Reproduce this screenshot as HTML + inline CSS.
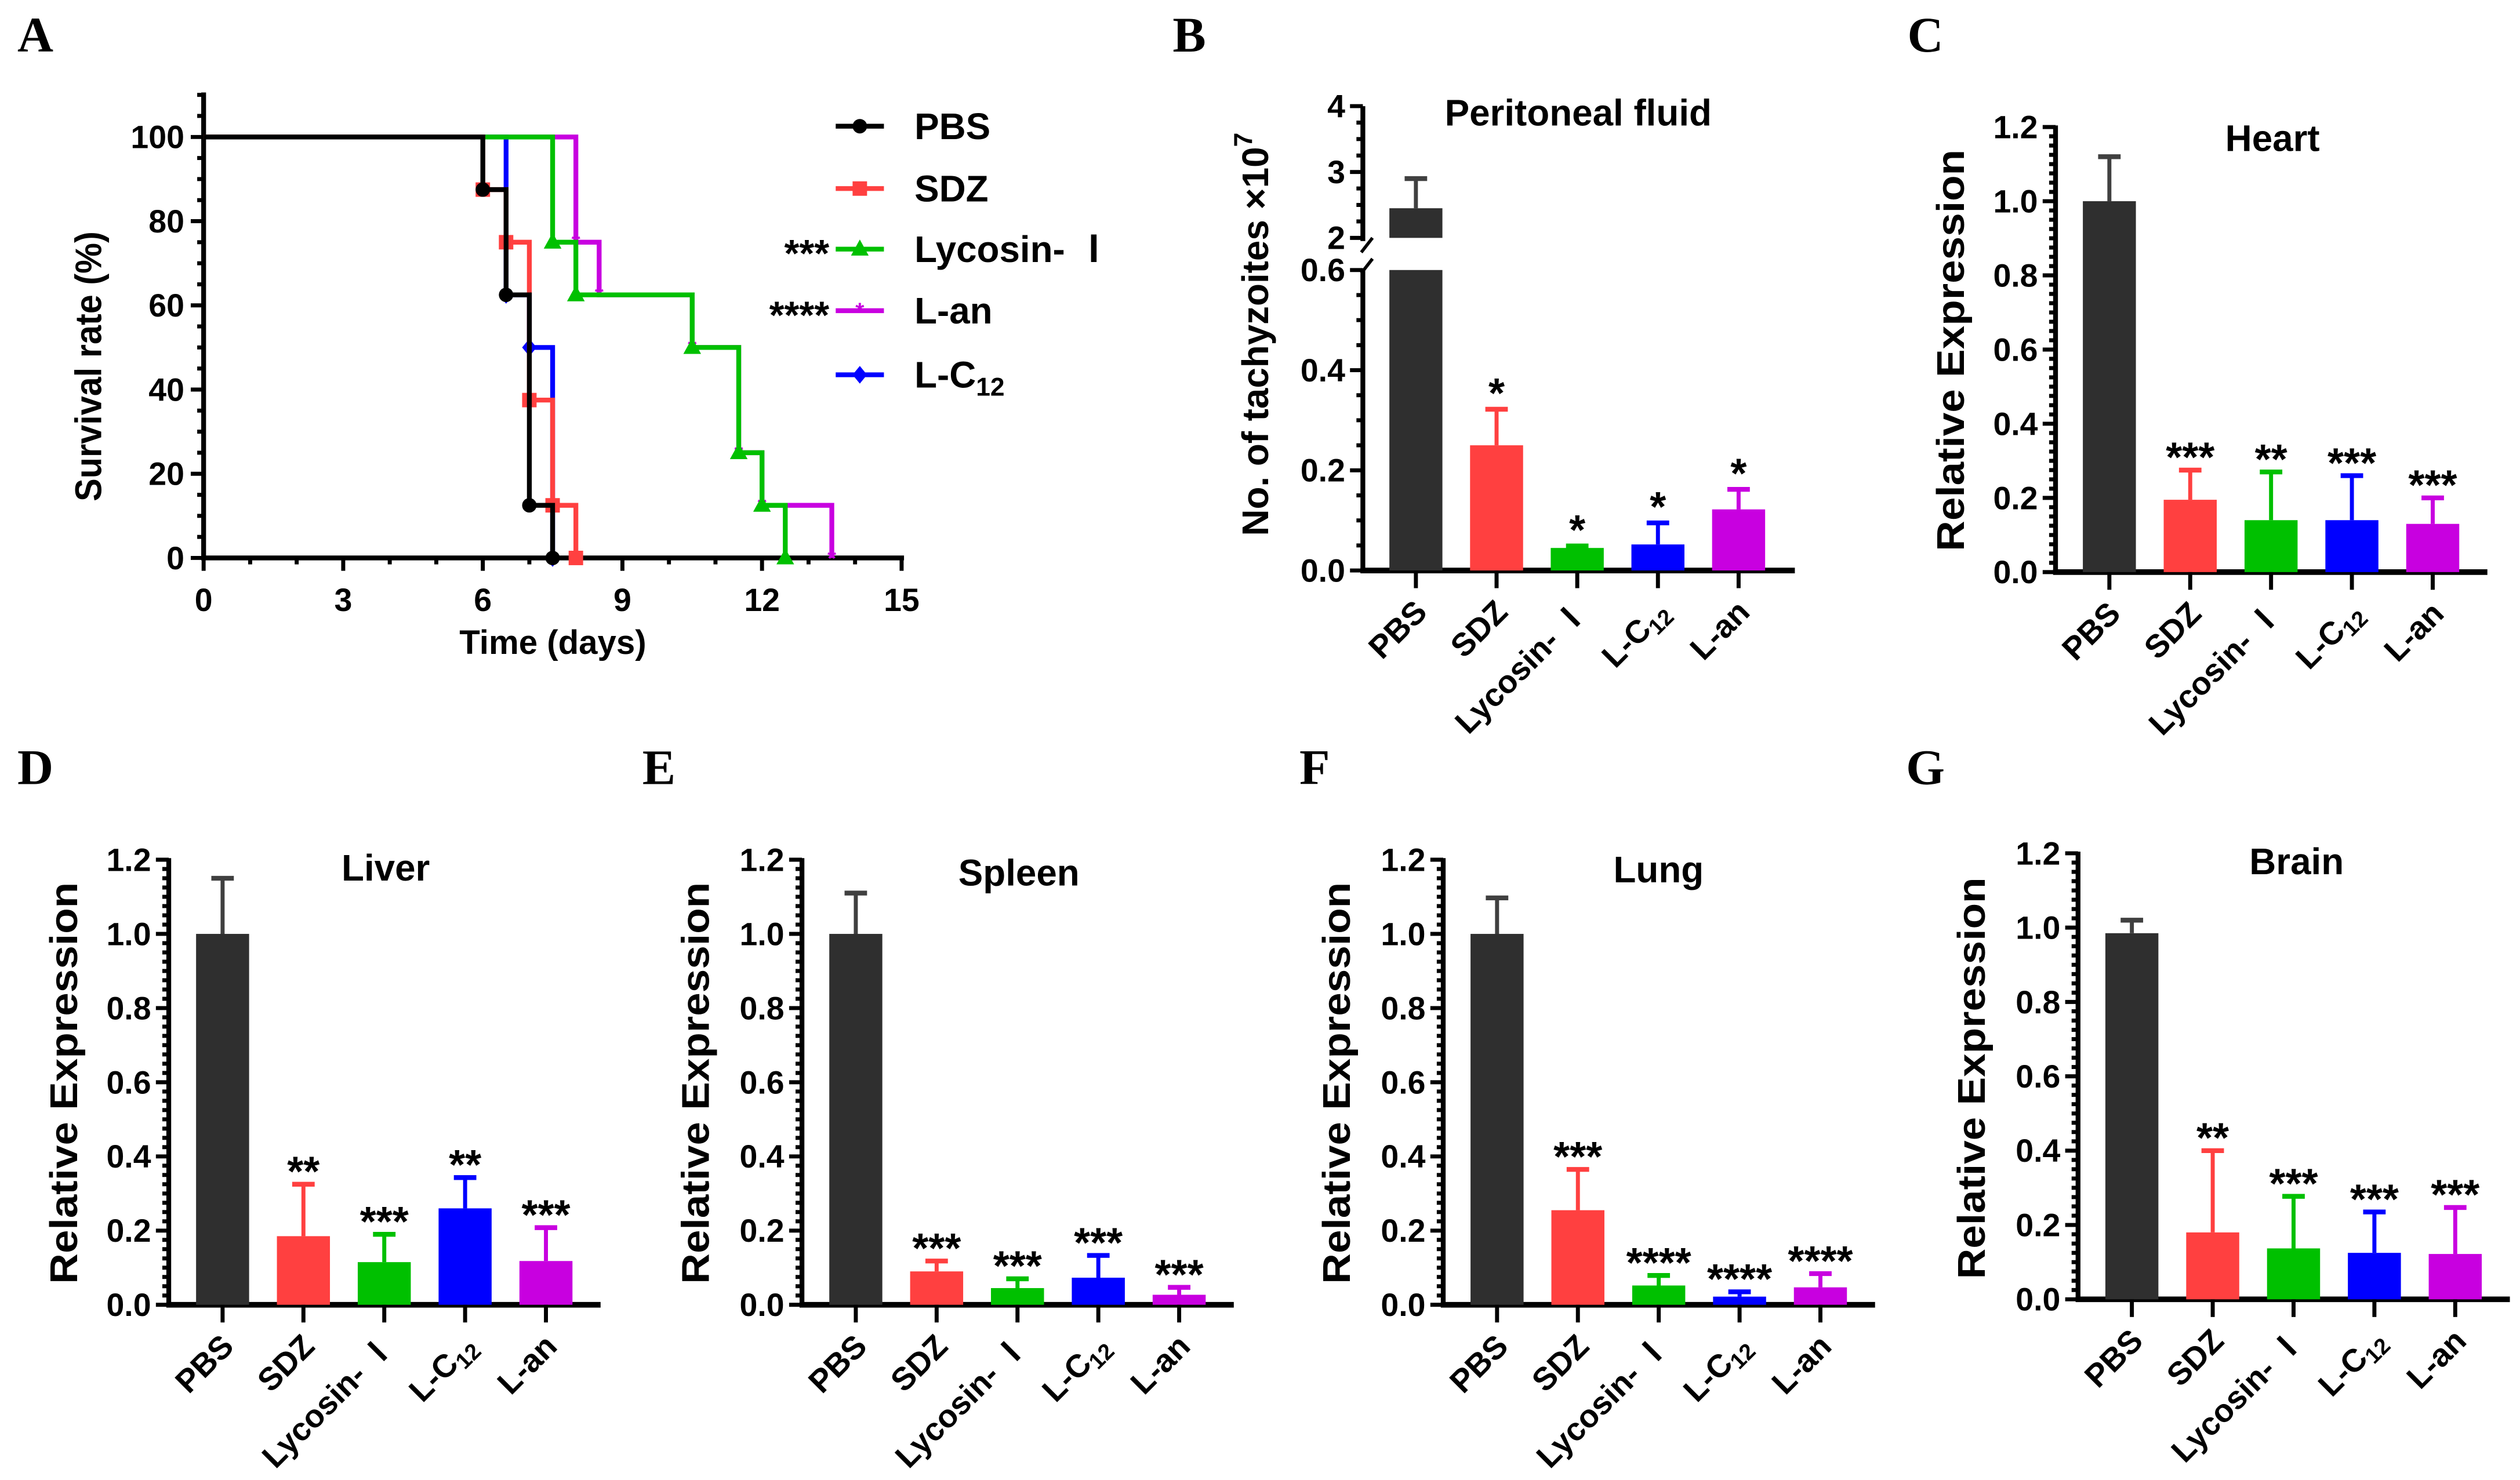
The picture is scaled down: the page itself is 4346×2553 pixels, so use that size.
<!DOCTYPE html>
<html><head><meta charset="utf-8">
<style>
html,body{margin:0;padding:0;background:#fff;}
svg{display:block;}
text{font-family:"Liberation Sans","Noto Sans CJK SC",sans-serif;}
.num{font-family:"Liberation Sans Narrow","Liberation Sans",sans-serif;font-weight:bold;font-size:20px;}
.lbl{font-weight:bold;}
.letter{font-family:"Liberation Serif",serif;font-weight:bold;font-size:31px;}
</style></head>
<body>
<svg id="fig" xmlns="http://www.w3.org/2000/svg" width="4346" height="2553" viewBox="0 0 1568 921"></svg>
<script>
// ---------- DATA ----------
const groups = ["PBS","SDZ","Lycosin- Ⅰ","L-C12","L-an"];
const colors = ["#2f2f2f","#ff4040","#00c000","#0000ff","#c800e0"];
// survival (panel A)
const pbsT=[0,6,6.5,7,7.5],           pbsS=[100,87.5,62.5,12.5,0];
const sdzT=[0,6,6.5,7,7.5,8],         sdzS=[100,87.5,75,37.5,12.5,0];
const lycT=[0,7.5,8,10.5,11.5,12,12.5], lycS=[100,75,62.5,50,25,12.5,0];
const lanT=[0,8,8.5,10.5,11.5,12,13.5], lanS=[100,75,62.5,50,25,12.5,0];
const lcT=[0,6.5,7,7.5],              lcS=[100,62.5,50,0];
const survXTicks=[0,3,6,9,12,15];
const survYTicks=[0,20,40,60,80,100];
// peritoneal (panel B)
const periVals=[2.45,0.25,0.045,0.052,0.122];
const periErr=[0.45,0.072,0.004,0.043,0.04];
const periStars=["","*","*","*","*"];
// organs
const heartVals=[1.0,0.195,0.14,0.14,0.13], heartErr=[0.12,0.08,0.13,0.12,0.07], heartStars=["","***","**","***","***"];
const liverVals=[1.0,0.185,0.115,0.26,0.118], liverErr=[0.15,0.14,0.075,0.083,0.09], liverStars=["","**","***","**","***"];
const spleenVals=[1.0,0.09,0.045,0.073,0.027], spleenErr=[0.11,0.028,0.025,0.06,0.02], spleenStars=["","***","***","***","***"];
const lungVals=[1.0,0.255,0.052,0.022,0.047], lungErr=[0.097,0.11,0.027,0.013,0.037], lungStars=["","***","****","****","****"];
const brainVals=[0.985,0.18,0.137,0.125,0.122], brainErr=[0.035,0.22,0.14,0.11,0.125], brainStars=["","**","***","***","***"];
const relTicks=[0,0.2,0.4,0.6,0.8,1.0,1.2];

// ---------- HELPERS ----------
const NS="http://www.w3.org/2000/svg";
const svg=document.getElementById('fig');
function mk(tag,attrs,parent){const e=document.createElementNS(NS,tag);for(const k in attrs)e.setAttribute(k,attrs[k]);(parent||svg).appendChild(e);return e;}
function line(x1,y1,x2,y2,c,w,p){return mk('line',{x1,y1,x2,y2,stroke:c,'stroke-width':w,'stroke-linecap':'butt'},p);}
function txt(x,y,s,attrs,p){const t=mk('text',Object.assign({x,y},attrs),p);t.textContent=s;return t;}
function catLabel(g,x,y,name){
  const t=mk('text',{x,y,'text-anchor':'end','font-weight':'bold','font-size':20,transform:`rotate(-45 ${x} ${y})`},g);
  if(name==="L-C12"){t.appendChild(document.createTextNode("L-C"));const s=mk('tspan',{'font-size':14,dy:4},t);s.textContent="12";}
  else t.textContent=name;
  
  
  return t;
}

// panel letters
[["A",22,32],["B",740,32],["C",1198,32],["D",22,488],["E",410,488],["F",818,488],["G",1198,488]].forEach(([l,x,y])=>{
  const t=txt(x,y,l,{class:'letter','text-anchor':'middle'});
  
  
});

// ---------- PANEL A ----------
(function(){
  const g=mk('g',{});
  
  
  const X0=126.7,X1=561,Y0=347.2,Y100=85.2;
  const sx=t=>X0+(X1-X0)*t/15, sy=v=>Y0+(Y100-Y0)*v/100;
  line(X0,Y0,X0,57.5,'#000',3,g);
  line(X0-1.5,Y0,X1+1.5,Y0,'#000',3,g);
  for(let v=0;v<=110;v+=5){const maj=v%20===0;line(X0-(maj?8:4),sy(v),X0,sy(v),'#000',2.5,g);}
  survYTicks.forEach(v=>{const t=txt(X0-12,sy(v)+7,v,{class:'num','text-anchor':'end'},g);});
  for(let d=0;d<=15;d++){const maj=d%3===0;line(sx(d),Y0,sx(d),Y0+(maj?8:4),'#000',2.5,g);}
  survXTicks.forEach(d=>{const t=txt(sx(d),Y0+33,d,{class:'num','text-anchor':'middle'},g);});
  const yt=txt(0,0,"Survival rate (%)",{'font-weight':'bold','font-size':23,'text-anchor':'middle',transform:'translate(63 228) rotate(-90)',textLength:168,lengthAdjust:'spacingAndGlyphs'},g);
  
  const xt=txt(344,407,"Time (days)",{'font-weight':'bold','font-size':21,'text-anchor':'middle'},g);
  
  function marker(type,x,y,c,p){
    if(type==='circle')return mk('circle',{cx:x,cy:y,r:4.5,fill:c},p);
    if(type==='square')return mk('rect',{x:x-4.5,y:y-4.5,width:9,height:9,fill:c},p);
    if(type==='tri')return mk('polygon',{points:`${x},${y-6} ${x-5.5},${y+4} ${x+5.5},${y+4}`,fill:c},p);
    if(type==='diamond')return mk('polygon',{points:`${x},${y-5.5} ${x+4.5},${y} ${x},${y+5.5} ${x-4.5},${y}`,fill:c},p);
    if(type==='star')return mk('text',{x,y:y+5,'text-anchor':'middle','font-size':14,fill:c,'font-weight':'bold'},p);
  }
  const series=[
    {name:'l-an',T:lanT,S:lanS,c:colors[4],m:'star'},
    {name:'l-c12',T:lcT,S:lcS,c:colors[3],m:'diamond'},
    {name:'lycosin',T:lycT,S:lycS,c:colors[2],m:'tri'},
    {name:'sdz',T:sdzT,S:sdzS,c:colors[1],m:'square'},
    {name:'pbs',T:pbsT,S:pbsS,c:'#000',m:'circle'}];
  series.forEach(s=>{
    const sg=mk('g',{},g);
    
    
    let d=`M${sx(s.T[0])},${sy(s.S[0])}`;
    for(let i=1;i<s.T.length;i++){d+=` H${sx(s.T[i])} V${sy(s.S[i])}`;}
    mk('path',{d,fill:'none',stroke:s.c,'stroke-width':3},sg);
    for(let i=1;i<s.T.length;i++){const m=marker(s.m,sx(s.T[i]),sy(s.S[i]),s.c,sg);if(s.m==='star')m.textContent='*';}
  });
  const leg=[["PBS",'#000','circle',78.5,""],["SDZ",colors[1],'square',117.3,""],["Lycosin- Ⅰ",colors[2],'tri',155,"***"],["L-an",colors[4],'star',193.3,"****"],["L-C12",colors[3],'diamond',233.2,""]];
  leg.forEach(([n,c,m,y,st])=>{
    const lg=mk('g',{},g);
    
    
    line(520,y,550,y,c,3,lg);
    const mm=marker(m,535,y,c,lg);if(m==='star')mm.textContent='*';
    const t=mk('text',{x:569,y:y+8,'font-weight':'bold','font-size':23},lg);
    if(n==="L-C12"){t.appendChild(document.createTextNode("L-C"));const s=mk('tspan',{'font-size':16,dy:5},t);s.textContent="12";}
    else t.textContent=n;
    if(st)txt(516,y+11,st,{'text-anchor':'end','font-weight':'bold','font-size':24},lg);
  });
})();

// ---------- BAR PANEL ----------
function barPanel(o){
  const g=mk('g',{});
  
  
  const sy=v=>o.y0+(o.ytop-o.y0)*v/1.2;
  const cx=i=>o.ax+33.5+50.3*i;
  const right=cx(4)+34;
  line(o.ax,o.y0+1.5,o.ax,o.ytop-1,'#000',3,g);
  line(o.ax-1.5,o.y0,right,o.y0,'#000',3.5,g);
  for(let k=0;k<=48;k++){const v=k*0.025;const maj=k%8===0;line(o.ax-(maj?8:4),sy(v),o.ax,sy(v),'#000',2.5,g);}
  relTicks.forEach(v=>{const t=txt(o.ax-11,sy(v)+7,v.toFixed(1),{class:'num','text-anchor':'end'},g);});
  const yt=txt(0,0,"Relative Expression",{'font-weight':'bold','font-size':24,'text-anchor':'middle',transform:`translate(${o.ylx} ${o.ylc}) rotate(-90)`,textLength:250,lengthAdjust:'spacingAndGlyphs'},g);
  
  const tt=txt(o.tx,o.ty,o.title,{'font-weight':'bold','font-size':23,'text-anchor':'middle'},g);
  
  o.vals.forEach((v,i)=>{
    const x=cx(i),c=colors[i];
    const b=mk('rect',{x:x-16.5,y:sy(v),width:33,height:o.y0-sy(v),fill:c},g);
    
    
    const top=sy(v+o.err[i]);
    const ec=i===0?'#404040':c;
    line(x,sy(v),x,top,ec,2.5,g);
    line(x-7,top,x+7,top,ec,3,g);
    if(o.stars[i]){const s=txt(x,top+1,o.stars[i],{'text-anchor':'middle','font-weight':'bold','font-size':26},g);}
    line(x,o.y0,x,o.y0+11,'#000',2.5,g);
    catLabel(g,x+8,o.y0+27,groups[i]);
  });
}
barPanel({name:'heart-chart',ax:1279,y0:356,ytop:79,vals:heartVals,err:heartErr,stars:heartStars,title:'Heart',tx:1414,ty:94,ylx:1222,ylc:218});
barPanel({name:'liver-chart',ax:105,y0:812,ytop:535,vals:liverVals,err:liverErr,stars:liverStars,title:'Liver',tx:240,ty:548,ylx:48,ylc:674});
barPanel({name:'spleen-chart',ax:499,y0:812,ytop:535,vals:spleenVals,err:spleenErr,stars:spleenStars,title:'Spleen',tx:634,ty:551,ylx:441,ylc:674});
barPanel({name:'lung-chart',ax:898,y0:812,ytop:535,vals:lungVals,err:lungErr,stars:lungStars,title:'Lung',tx:1032,ty:549,ylx:840,ylc:674});
barPanel({name:'brain-chart',ax:1293,y0:808.6,ytop:531,vals:brainVals,err:brainErr,stars:brainStars,title:'Brain',tx:1429,ty:544,ylx:1235,ylc:671});

// ---------- PANEL B (broken axis) ----------
(function(){
  const g=mk('g',{});
  
  
  const ax=848,Y0=355,Y06=168,U2=148,U4=66;
  const lo=v=>Y0+(Y06-Y0)*v/0.6, hi=v=>U2+(U4-U2)*(v-2)/2;
  const val=v=>v>0.6?hi(Math.max(v,2)):lo(v);
  const cx=i=>ax+33+50.2*i;
  const right=cx(4)+35;
  line(ax,Y0+1.5,ax,Y06,'#000',3,g);
  line(ax,U2+2,ax,U4,'#000',3,g);
  line(ax-1.5,Y0,right,Y0,'#000',3.5,g);
  for(let k=0;k<=12;k++){const v=k*0.05,maj=k%4===0;line(ax-(maj?8:4),lo(v),ax,lo(v),'#000',2.5,g);}
  for(let k=0;k<=8;k++){const v=2+k*0.25,maj=k%4===0;line(ax-(maj?8:4),hi(v),ax,hi(v),'#000',2.5,g);}
  [0,0.2,0.4,0.6].forEach(v=>{const t=txt(ax-11,lo(v)+7,v.toFixed(1),{class:'num','text-anchor':'end'},g);});
  [2,3,4].forEach(v=>{const t=txt(ax-11,hi(v)+7,v,{class:'num','text-anchor':'end'},g);});
  line(ax-1,157,ax+6,148,'#000',2,g);
  line(ax-1,170,ax+6,161,'#000',2,g);
  const yt=mk('text',{'font-weight':'bold','font-size':23,'text-anchor':'middle',transform:'translate(789 208) rotate(-90)'},g);
  yt.appendChild(document.createTextNode("No. of tachyzoites ×10"));
  const sup=mk('tspan',{'font-size':16,dy:-10},yt);sup.textContent="7";
  
  const tt=txt(982,78,"Peritoneal fluid",{'font-weight':'bold','font-size':23,'text-anchor':'middle'},g);
  
  periVals.forEach((v,i)=>{
    const x=cx(i),c=colors[i];
    let b;
    if(v>0.6){
      b=mk('rect',{x:x-16.5,y:Y06,width:33,height:Y0-Y06,fill:c},g);
      mk('rect',{x:x-16.5,y:hi(v),width:33,height:U2-hi(v),fill:c},g);
    } else b=mk('rect',{x:x-16.5,y:lo(v),width:33,height:Y0-lo(v),fill:c},g);
    
    
    const top=val(v+periErr[i]);
    const ec=i===0?'#404040':c;
    line(x,val(v),x,top,ec,2.5,g);
    line(x-7,top,x+7,top,ec,3,g);
    if(periStars[i]){const s=txt(x,top-1,periStars[i],{'text-anchor':'middle','font-weight':'bold','font-size':26},g);}
    line(x,Y0,x,Y0+11,'#000',2.5,g);
    catLabel(g,x+8,Y0+27,groups[i]);
  });
})();
</script>
</body></html>
